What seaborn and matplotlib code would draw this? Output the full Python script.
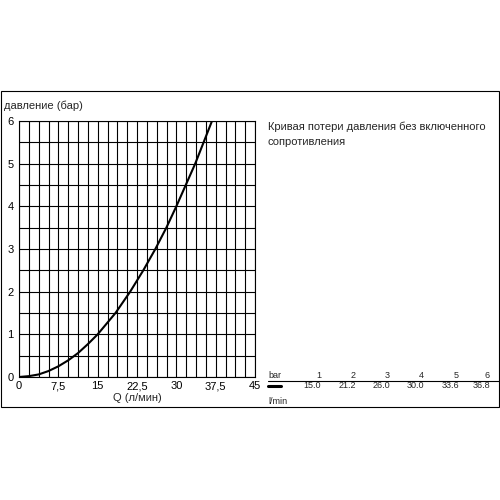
import numpy as np
import pandas as pd
import matplotlib
matplotlib.use("Agg")
import matplotlib.pyplot as plt
from matplotlib.patches import Rectangle
from matplotlib.lines import Line2D
import seaborn as sns

# --- Données ---
flow_lpm = [0, 1.875, 3.75, 5.625, 7.5, 9.375, 11.25, 13.125, 15.0, 18.4,
            21.2, 23.7, 26.0, 28.1, 30.0, 31.8, 33.6, 35.2, 36.8]
pressure_bar = [0, 0.02, 0.06, 0.14, 0.25, 0.39, 0.56, 0.77, 1, 1.5,
                2, 2.5, 3, 3.5, 4, 4.5, 5, 5.5, 6]

table_bar = [1, 2, 3, 4, 5, 6]
table_lpm = ["15.0", "21.2", "26.0", "30.0", "33.6", "36.8"]

x_ticks = [0, 7.5, 15, 22.5, 30, 37.5, 45]
x_tick_labels = ["0", "7,5", "15", "22,5", "30", "37,5", "45"]
y_ticks = [0, 1, 2, 3, 4, 5, 6]

df = pd.DataFrame({"Q": flow_lpm, "p": pressure_bar})

sns.set_style("white")
plt.rcParams["font.family"] = ["Liberation Sans", "DejaVu Sans"]

fig = plt.figure(figsize=(5, 5), dpi=100)
ax = fig.add_axes([0.038, 0.246, 0.472, 0.512])

sns.lineplot(data=df, x="Q", y="p", color="black", linewidth=1.5, ax=ax)

ax.set_xlim(0, 45)
ax.set_ylim(0, 6)
ax.set_xticks(x_ticks)
ax.set_xticklabels(x_tick_labels)
ax.set_yticks(y_ticks)
ax.set_xticks(np.arange(0, 45.01, 1.875), minor=True)
ax.set_yticks(np.arange(0, 6.01, 0.5), minor=True)
ax.grid(True, which="both", color="black", linewidth=0.8)
ax.set_axisbelow(True)
ax.tick_params(which="both", length=0, labelsize=8, colors="black")
ax.tick_params(axis="y", pad=4)
ax.tick_params(axis="x", pad=3)
for s in ax.spines.values():
    s.set_color("black")
    s.set_linewidth(0.8)

ax.set_xlabel("Q (л/мин)", fontsize=8, labelpad=1)
ax.set_ylabel("")
fig.text(0.008, 0.788, "давление (бар)", fontsize=8, va="center", ha="left")

# cadre autour de tout
fig.add_artist(Rectangle((0.001, 0.186), 0.997, 0.632, transform=fig.transFigure,
                         fill=False, edgecolor="black", linewidth=0.8))

# texte de droite
fig.text(0.536, 0.746, "Кривая потери давления без включенного", fontsize=8, va="center", ha="left")
fig.text(0.536, 0.716, "сопротивления", fontsize=8, va="center", ha="left")

# petit tableau
fig.text(0.536, 0.250, "bar", fontsize=6.5, va="center", ha="left")
fig.text(0.536, 0.196, "l/min", fontsize=6.5, va="center", ha="left")
fig.add_artist(Line2D([0.536, 0.998], [0.238, 0.238], transform=fig.transFigure,
                      color="black", linewidth=0.8))
fig.add_artist(Line2D([0.536, 0.562], [0.228, 0.228], transform=fig.transFigure,
                      color="black", linewidth=2.2))
right_edges = [0.642, 0.712, 0.780, 0.848, 0.918, 0.980]
for xe, b, q in zip(right_edges, table_bar, table_lpm):
    fig.text(xe, 0.250, str(b), fontsize=6.5, va="center", ha="right")
    fig.text(xe, 0.228, q, fontsize=6.5, va="center", ha="right")

fig.savefig("out.png", dpi=100, facecolor="white")
